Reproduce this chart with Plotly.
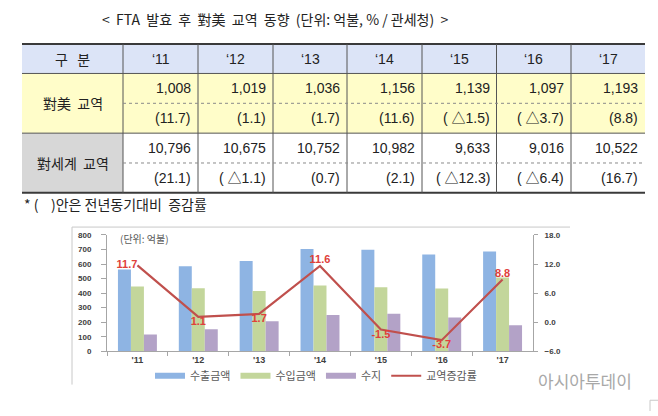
import plotly.graph_objects as go

# ---------------- data ----------------
years = ["‘11", "‘12", "‘13", "‘14", "‘15", "‘16", "‘17"]
us_trade = ["1,008", "1,019", "1,036", "1,156", "1,139", "1,097", "1,193"]
us_rate = ["(11.7)", "(1.1)", "(1.7)", "(11.6)", "( △1.5)", "( △3.7)", "(8.8)"]
world_trade = ["10,796", "10,675", "10,752", "10,982", "9,633", "9,016", "10,522"]
world_rate = ["(21.1)", "( △1.1)", "(0.7)", "(2.1)", "( △12.3)", "( △6.4)", "(16.7)"]

chart_years = ["'11", "'12", "'13", "'14", "'15", "'16", "'17"]
exports = [562, 585, 621, 703, 698, 665, 686]
imports = [446, 434, 415, 453, 441, 432, 507]
balance = [116, 151, 206, 250, 258, 233, 179]
growth = [11.7, 1.1, 1.7, 11.6, -1.5, -3.7, 8.8]
growth_pos = ["middle left", "bottom center", "bottom center", "top center",
              "bottom center", "bottom center", "top center"]

W, H = 658, 416
def X(px): return px / W
def Y(py): return 1 - py / H

FONT = "Liberation Sans, Noto Sans CJK KR, sans-serif"
KFONT = "Noto Sans CJK KR, sans-serif"
NB = "\u00a0"

fig = go.Figure()

fig.add_trace(go.Bar(x=chart_years, y=exports, name="수출금액", marker_color="#8EB4E3",
                     marker_line_width=0, showlegend=False))
fig.add_trace(go.Bar(x=chart_years, y=imports, name="수입금액", marker_color="#C3D69B",
                     marker_line_width=0, showlegend=False))
fig.add_trace(go.Bar(x=chart_years, y=balance, name="수지", marker_color="#B3A2C7",
                     marker_line_width=0, showlegend=False))
fig.add_trace(go.Scatter(x=chart_years, y=growth, yaxis="y2", mode="lines+text",
                         text=[f"{v:.1f}" for v in growth], textposition=growth_pos,
                         textfont=dict(color="#E0403A", size=11, family=FONT, weight="bold"),
                         line=dict(color="#C0504D", width=2.2), showlegend=False,
                         cliponaxis=False))

# legend entries
for name, col, w in [("수출금액", "#8EB4E3", 6), ("수입금액", "#C3D69B", 6),
                     ("수지", "#B3A2C7", 6), ("교역증감률", "#C0504D", 2)]:
    fig.add_trace(go.Scatter(x=[None], y=[None], mode="lines", name=name,
                             line=dict(color=col, width=w), showlegend=True))

shapes = []
annotations = []

# ---------------- table ----------------
cols = [22, 123, 198, 273, 347, 422, 496.5, 571, 645]
r_top, r_h, r1, r2, r3, r4 = 41, 71, 101.5, 132, 162.5, 193

def rect(x0, y0, x1, y1, color):
    shapes.append(dict(type="rect", xref="paper", yref="paper", x0=X(x0), x1=X(x1),
                       y0=Y(y1), y1=Y(y0), fillcolor=color, line=dict(width=0), layer="below"))

def line(x0, y0, x1, y1, color, width=1, dash="solid"):
    shapes.append(dict(type="line", xref="paper", yref="paper", x0=X(x0), x1=X(x1),
                       y0=Y(y0), y1=Y(y1), line=dict(color=color, width=width, dash=dash)))

rect(cols[0], r_top, cols[-1], r_h, "#DCE4F7")
rect(cols[0], r_h, cols[-1], r2, "#FFFDC9")
rect(cols[0], r2, cols[1], r4, "#D7D7D7")

line(cols[0], r_top, cols[-1], r_top, "#3A3A3A", 2)
line(cols[0], r_h, cols[-1], r_h, "#555555", 1)
line(cols[0], r2, cols[-1], r2, "#555555", 1)
line(cols[0], r4, cols[-1], r4, "#3A3A3A", 2)
for c in cols[1:-1]:
    line(c, r_top, c, r4, "#555555", 1)
line(cols[1], r1, cols[-1], r1, "#8A8A8A", 1, "dot")
line(cols[1], r3, cols[-1], r3, "#8A8A8A", 1, "dot")

def txt(x, y, s, anchor="center", size=14, color="#222222", family=FONT):
    annotations.append(dict(x=X(x), y=Y(y), xref="paper", yref="paper", text=s,
                            showarrow=False, xanchor=anchor, yanchor="middle",
                            font=dict(size=size, color=color, family=family)))

title = ("&lt;" + NB * 2 + "FTA" + NB * 2 + "발효" + NB * 2 + "후" + NB * 2 + "對美" + NB * 2
         + "교역" + NB * 2 + "동향" + NB * 2 + "(단위: 억불, % / 관세청)" + NB * 2 + "&gt;")
txt(275, 15, title, size=14, family=KFONT)
txt((cols[0] + cols[1]) / 2, (r_top + r_h) / 2, "구" + NB * 3 + "분", family=KFONT)
txt((cols[0] + cols[1]) / 2, (r_h + r2) / 2, "對美" + NB * 2 + "교역", family=KFONT)
txt((cols[0] + cols[1]) / 2, (r2 + r4) / 2, "對세계" + NB * 2 + "교역", family=KFONT)
for i, yr in enumerate(years):
    cx = (cols[i + 1] + cols[i + 2]) / 2
    rx = cols[i + 2] - 5
    txt(cx, (r_top + r_h) / 2, yr)
    txt(rx, (r_h + r1) / 2, us_trade[i], "right")
    txt(rx, (r1 + r2) / 2, us_rate[i], "right")
    txt(rx, (r2 + r3) / 2, world_trade[i], "right")
    txt(rx, (r3 + r4) / 2, world_rate[i], "right")
txt(22, 204, "*" + NB + "(" + NB * 4 + ")안은 전년동기대비" + NB * 2 + "증감률", "left", family=KFONT)

# ---------------- chart frame & extras ----------------
line(72, 228, 570, 228, "#C8C8C8", 1)
line(72, 228, 72, 389, "#C8C8C8", 1)
line(650, 416, 650, 405, "#C8C8C8", 1)
line(650, 405, 658, 405, "#C8C8C8", 1)

txt(118, 240, "(단위: 억불)", "left", size=10, color="#595959", family=KFONT)
txt(585, 385, "아시아투데이", "center", size=17, color="#A8A8A8", family=KFONT)

axis_font = dict(size=8, color="#404040", family=FONT, weight="bold")

fig.update_layout(
    width=W, height=H, margin=dict(l=0, r=0, t=0, b=0),
    paper_bgcolor="white", plot_bgcolor="white",
    barmode="group", bargap=0.36, bargroupgap=0,
    shapes=shapes, annotations=annotations,
    xaxis=dict(domain=[X(107), X(533)], showline=True, linecolor="#A6A6A6",
               ticks="outside", tickson="boundaries", ticklen=4, tickcolor="#A6A6A6",
               tickfont=dict(size=9, color="#404040", family=FONT, weight="bold"),
               showgrid=False, anchor="y"),
    yaxis=dict(domain=[Y(355), Y(236)], range=[0, 800], dtick=100, showgrid=False,
               zeroline=False, showline=True, linecolor="#A6A6A6", ticks="outside",
               ticklen=5, tickcolor="#A6A6A6", tickfont=axis_font, ticklabelstandoff=8),
    yaxis2=dict(overlaying="y", side="right", range=[-6, 18], dtick=6, tickformat=".1f",
                showgrid=False, zeroline=False, showline=True, linecolor="#A6A6A6",
                ticks="outside", ticklen=4, tickcolor="#A6A6A6", tickfont=axis_font,
                ticklabelstandoff=5, anchor="x"),
    legend=dict(orientation="h", x=X(150), xanchor="left", y=Y(380), yanchor="middle",
                font=dict(size=11, color="#595959", family=KFONT),
                bgcolor="rgba(0,0,0,0)", traceorder="normal"),
)

fig.write_html("out.html")
